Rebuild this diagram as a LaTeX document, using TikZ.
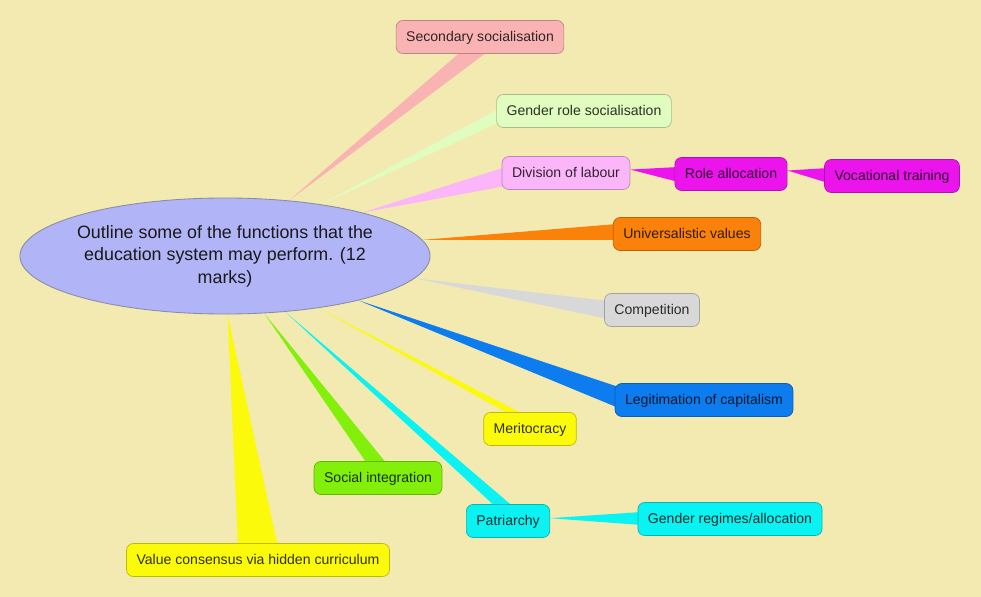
\documentclass[tikz,border=0pt]{standalone}
\usepackage{fontspec}
\setmainfont{Liberation Sans}
\usepackage{xcolor}
\usepackage{tikz}
\usetikzlibrary{shapes.geometric, calc, backgrounds}
\definecolor{pagecream}{HTML}{F3EAB1}
\definecolor{topiclav}{HTML}{B1B4F6}
\definecolor{topicedge}{HTML}{8A8AA0}
\definecolor{secpink}{HTML}{F9B3B3}
\definecolor{genlime}{HTML}{E0FCBE}
\definecolor{divpink}{HTML}{FBB5F9}
\definecolor{rolemag}{HTML}{EC14EC}
\definecolor{univorange}{HTML}{FA820A}
\definecolor{compgray}{HTML}{D8D8D8}
\definecolor{legitblue}{HTML}{0C7CEE}
\definecolor{merityellow}{HTML}{FAFA0A}
\definecolor{socialgreen}{HTML}{82F00A}
\definecolor{patrcyan}{HTML}{0AF2F2}

\tikzset{
  topicnode/.style={ellipse, fill=topiclav, draw=topicedge, line width=0.6pt,
    inner xsep=-0.12cm, inner ysep=0pt,
    minimum width=10.25cm, minimum height=2.9cm, align=center,
    text=black!90, font=\fontsize{12.7}{16}\selectfont},
  ideabox/.style={rounded corners=0.17cm, fill=#1, draw=#1!75!black, line width=0.5pt,
    text=#1!20!black, minimum height=0.825cm, inner xsep=0.25cm,
    text height=0.72em, text depth=0.12em,
    font=\fontsize{10}{12}\selectfont}
}

\begin{document}
\begin{tikzpicture}[x=0.025cm, y=-0.025cm]
  % Central question
  \node[topicnode] (topic) at (225,256) {Outline some of the functions that the\\education system may perform. (12\\marks)};

  % Functions round the question
  \node[ideabox=secpink] (secsoc) at (480,37) {Secondary socialisation};
  \node[ideabox=genlime] (gensoc) at (584,111) {Gender role socialisation};
  \node[ideabox=divpink] (divlab) at (566,173) {Division of labour};
  \node[ideabox=univorange] (univ) at (687,234) {Universalistic values};
  \node[ideabox=compgray] (comp) at (652,310) {Competition};
  \node[ideabox=legitblue] (legit) at (704,400) {Legitimation of capitalism};
  \node[ideabox=merityellow] (merit) at (530,429) {Meritocracy};
  \node[ideabox=socialgreen] (social) at (378,478) {Social integration};
  \node[ideabox=patrcyan] (patr) at (508,521) {Patriarchy};
  \node[ideabox=merityellow] (valcons) at (258,560) {Value consensus via hidden curriculum};

  % Second level
  \node[ideabox=rolemag] (roleall) at (731,174) {Role allocation};
  \node[ideabox=rolemag] (vocat) at (892,176) {Vocational training};
  \node[ideabox=patrcyan] (genreg) at (730,519) {Gender regimes/allocation};

  \begin{pgfonlayer}{background}
    % Page background
    \fill[pagecream] (0,0) rectangle (981,597);

    % Tapered branches from the question
    \fill[secpink] (topic) -- ($(secsoc.south)+(-17,-4)$) -- ($(secsoc.south)+(10,-4)$) -- cycle;
    \fill[genlime] (topic) -- ($(gensoc.west)+(4,-3)$) -- ($(gensoc.west)+(4,11)$) -- cycle;
    \fill[divpink] (topic) -- ($(divlab.west)+(4,-6)$) -- ($(divlab.west)+(4,13)$) -- cycle;
    \fill[univorange] (topic) -- ($(univ.west)+(4,-10)$) -- ($(univ.west)+(4,6)$) -- cycle;
    \fill[compgray] (topic) -- ($(comp.west)+(4,-9)$) -- ($(comp.west)+(4,9)$) -- cycle;
    \fill[legitblue] (topic) -- ($(legit.west)+(4,-13)$) -- ($(legit.west)+(4,8)$) -- cycle;
    \fill[merityellow] (topic) -- ($(merit.north)+(-17,4)$) -- ($(merit.north)+(-3,4)$) -- cycle;
    \fill[socialgreen] (topic) -- ($(social.north)+(-10,4)$) -- ($(social.north)+(10,4)$) -- cycle;
    \fill[patrcyan] (topic) -- ($(patr.north)+(-11,4)$) -- ($(patr.north)+(7,4)$) -- cycle;
    \fill[merityellow] (topic) -- ($(valcons.north)+(-20,4)$) -- ($(valcons.north)+(20,4)$) -- cycle;

    % Second level branches
    \fill[rolemag] (divlab) -- ($(roleall.west)+(4,-7)$) -- ($(roleall.west)+(4,8)$) -- cycle;
    \fill[rolemag] (roleall) -- ($(vocat.west)+(4,-8)$) -- ($(vocat.west)+(4,7)$) -- cycle;
    \fill[patrcyan] (patr) -- ($(genreg.west)+(4,-7)$) -- ($(genreg.west)+(4,6)$) -- cycle;
  \end{pgfonlayer}
\end{tikzpicture}
\end{document}
